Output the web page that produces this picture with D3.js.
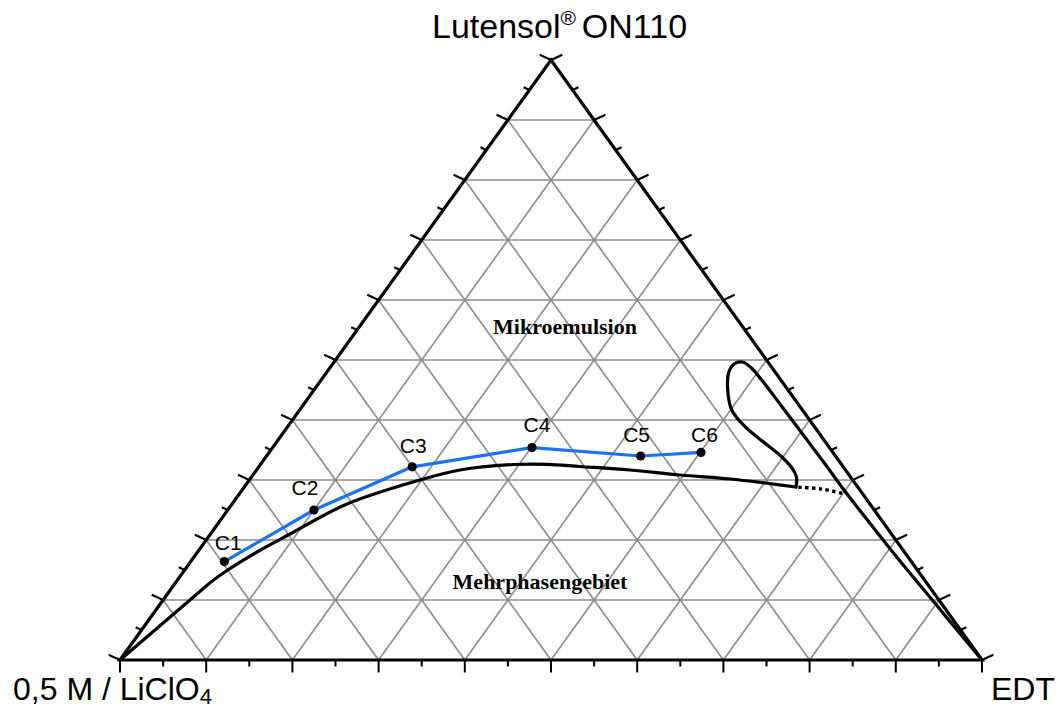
<!DOCTYPE html>
<html>
<head>
<meta charset="utf-8">
<script src="https://cdn.jsdelivr.net/npm/d3@7/dist/d3.min.js"></script>
<style>
  html, body { margin: 0; padding: 0; background: #fff; }
  svg { display: block; }
</style>
</head>
<body>
<svg id="chart" width="1064" height="711"></svg>
<script>
// Ternary phase diagram: 0,5 M LiClO4 / EDT / Lutensol ON110 (all in %).
// Each composition is stored as EDT share (b) and surfactant share (c); the rest is the aqueous phase.

const gridSteps = [10, 20, 30, 40, 50, 60, 70, 80, 90];
const tickSteps = d3.range(0, 101, 5);

// Measured compositions C1..C6
const pointNames = ["C1", "C2", "C3", "C4", "C5", "C6"];
const pointEDT  = [3.9, 10.0, 17.8, 30.1, 43.4, 50.1];
const pointSurf = [16.4, 25.0, 32.2, 35.4, 34.0, 34.6];

// Lower phase boundary, from the LiClO4 corner to the tip
const lowerEDT  = [0, 1.56, 3.12, 4.16, 4.95, 6.89, 9.22, 13.33, 19.8, 23.61, 29.3, 33.23, 37.23, 43.33, 49.55, 55.69, 60.08, 64.0];
const lowerSurf = [0, 5.0, 10.0, 13.25, 14.92, 18.0, 21.0, 26.0, 30.0, 31.67, 32.58, 32.62, 32.25, 31.67, 30.83, 30.17, 29.5, 28.83];

// Loop from the tip up and back down along the EDT-rich side to the EDT corner
const loopEDT  = [64.0, 63.36, 62.28, 59.82, 56.77, 53.07, 50.13, 48.0, 46.62, 46.62, 47.5, 48.97, 51.11, 55.69, 60.23, 65.34, 70.39, 75.05, 79.71, 84.43, 89.83, 94.6, 100];
const loopSurf = [28.83, 30.28, 31.67, 33.88, 36.12, 38.88, 41.67, 45.0, 48.05, 49.45, 49.62, 48.62, 46.67, 42.22, 37.78, 32.78, 27.78, 23.33, 18.88, 14.45, 9.45, 5.0, 0];

// Uncertain continuation of the boundary (dotted)
const dottedEDT  = [64.3, 67.1, 70.2];
const dottedSurf = [28.8, 28.5, 27.7];

// Label nudges for C1..C6 (px, relative to each point)
const labelNudge = [[4, -12], [-9, -15], [1, -14], [5, -16], [-4, -14], [3.5, -10]];

const svg = d3.select("#chart");

const xScale = d3.scaleLinear().domain([0, 100]).range([120, 982]);
const yScale = d3.scaleLinear().domain([0, 100]).range([660, 60]);
const proj = (b, c) => [xScale(b + c / 2), yScale(c)];

const toPts = (bs, cs) => bs.map((b, i) => proj(b, cs[i]));

// ---- grid ----
const grid = svg.append("g")
  .attr("stroke", "#8c8c8c")
  .attr("stroke-width", 1.6)
  .attr("fill", "none");

function seg(g, p, q) {
  g.append("line")
    .attr("x1", p[0]).attr("y1", p[1])
    .attr("x2", q[0]).attr("y2", q[1]);
}

gridSteps.forEach(v => {
  seg(grid, proj(0, v), proj(100 - v, v));       // constant Lutensol
  seg(grid, proj(v, 0), proj(v, 100 - v));       // constant EDT
  seg(grid, proj(100 - v, 0), proj(0, 100 - v)); // constant LiClO4
});

// ---- ticks (perpendicular to each edge, pointing outward) ----
const ticks = svg.append("g").attr("stroke", "#000").attr("stroke-width", 2);
const nx = 0.907, ny = 0.421;
tickSteps.forEach(t => {
  const len = t % 10 === 0 ? 12.5 : 6.5;
  // bottom edge
  const pb = proj(t, 0);
  seg(ticks, pb, [pb[0], pb[1] + len]);
  // left edge
  const pl = proj(0, t);
  seg(ticks, pl, [pl[0] - nx * len, pl[1] - ny * len]);
  // right edge
  const pr = proj(100 - t, t);
  seg(ticks, pr, [pr[0] + nx * len, pr[1] - ny * len]);
});

// ---- triangle ----
const corners = [proj(0, 0), proj(100, 0), proj(0, 100)];
svg.append("path")
  .attr("d", d3.line()(corners) + "Z")
  .attr("fill", "none")
  .attr("stroke", "#000")
  .attr("stroke-width", 3.2)
  .attr("stroke-linejoin", "miter");

// ---- phase boundary ----
const smooth = d3.line().curve(d3.curveCatmullRom.alpha(0.5));

svg.append("path")
  .attr("d", smooth(toPts(lowerEDT, lowerSurf)))
  .attr("fill", "none").attr("stroke", "#000").attr("stroke-width", 3.2)
  .attr("stroke-linecap", "round");

svg.append("path")
  .attr("d", smooth(toPts(loopEDT, loopSurf)))
  .attr("fill", "none").attr("stroke", "#000").attr("stroke-width", 3.2)
  .attr("stroke-linecap", "round");

svg.append("path")
  .attr("d", smooth(toPts(dottedEDT, dottedSurf)))
  .attr("fill", "none").attr("stroke", "#000").attr("stroke-width", 3.4)
  .attr("stroke-dasharray", "3.4,3.4");

// ---- measured path C1..C6 ----
const pts = toPts(pointEDT, pointSurf);
svg.append("path")
  .attr("d", d3.line()(pts))
  .attr("fill", "none").attr("stroke", "#1a73f5").attr("stroke-width", 3.2)
  .attr("stroke-linejoin", "round");

svg.append("g").selectAll("circle")
  .data(pts)
  .join("circle")
  .attr("cx", d => d[0]).attr("cy", d => d[1])
  .attr("r", 4.6).attr("fill", "#000");

svg.append("g").selectAll("text")
  .data(pointNames)
  .join("text")
  .attr("x", (d, i) => pts[i][0] + labelNudge[i][0])
  .attr("y", (d, i) => pts[i][1] + labelNudge[i][1])
  .attr("text-anchor", "middle")
  .attr("font-family", "'Liberation Sans', Arial, sans-serif")
  .attr("font-size", 21)
  .text(d => d);

// ---- region labels ----
const regionFont = "'Liberation Serif', 'Times New Roman', serif";
svg.append("text")
  .attr("x", 565).attr("y", 334)
  .attr("text-anchor", "middle")
  .attr("font-family", regionFont).attr("font-weight", "bold").attr("font-size", 22)
  .text("Mikroemulsion");
svg.append("text")
  .attr("x", 540).attr("y", 589)
  .attr("text-anchor", "middle")
  .attr("font-family", regionFont).attr("font-weight", "bold").attr("font-size", 22)
  .text("Mehrphasengebiet");

// ---- corner labels ----
const axisFont = "'Liberation Sans', Arial, sans-serif";
const apexLabel = svg.append("text")
  .attr("x", 432).attr("y", 38)
  .attr("font-family", axisFont).attr("font-size", 34);
apexLabel.append("tspan").text("Lutensol");
apexLabel.append("tspan").attr("font-size", 21).attr("dy", -13).text("® ");
apexLabel.append("tspan").attr("dy", 13).text("ON110");

const leftLabel = svg.append("text")
  .attr("x", 13).attr("y", 700)
  .attr("font-family", axisFont).attr("font-size", 32);
leftLabel.append("tspan").text("0,5 M / LiClO");
leftLabel.append("tspan").attr("font-size", 22).attr("dy", 4).text("4");

svg.append("text")
  .attr("x", 991).attr("y", 700)
  .attr("font-family", axisFont).attr("font-size", 32)
  .text("EDT");
</script>
</body>
</html>
